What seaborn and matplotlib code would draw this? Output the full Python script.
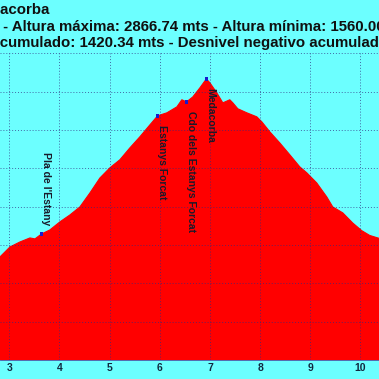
import matplotlib
matplotlib.use("Agg")
import matplotlib.pyplot as plt
import seaborn as sns
import pandas as pd

# perfil (km, metros)
dist_km = [2.815, 3.014, 3.213, 3.412, 3.512, 3.645, 3.811, 4.010, 4.209, 4.408,
           4.608, 4.807, 5.006, 5.205, 5.404, 5.604, 5.803, 5.956, 6.142, 6.341,
           6.440, 6.534, 6.659, 6.799, 6.928, 6.998, 7.137, 7.257, 7.396, 7.456,
           7.556, 7.735, 7.934, 8.034, 8.193, 8.392, 8.592, 8.791, 8.930, 9.129,
           9.329, 9.448, 9.647, 9.846, 10.026, 10.185, 10.370]
alt_m = [1938, 1990, 2016, 2037, 2032, 2058, 2079, 2121, 2157, 2199,
         2272, 2350, 2403, 2445, 2507, 2565, 2627, 2674, 2690, 2721,
         2758, 2747, 2773, 2820, 2866.74, 2847, 2794, 2742, 2758, 2742,
         2711, 2690, 2669, 2643, 2591, 2533, 2471, 2408, 2377, 2324,
         2251, 2199, 2168, 2115, 2075, 2050, 2035]

wp_names = ["Pla de l'Estany", "Estanys Forcat", "Cdo dels Estanys Forcat", "Medacorba"]
wp_km = [3.645, 5.956, 6.534, 6.928]
wp_alt = [2058, 2674, 2747, 2866.74]
wp_above = [True, False, False, False]

km_ticks = [3, 4, 5, 6, 7, 8, 9, 10]
alt_ticks = [1400, 1600, 1800, 2000, 2200, 2400, 2600, 2800, 3000]

linea1 = "Medacorba"
linea2 = "Distancia: 13.20 km - Altura máxima: 2866.74 mts - Altura mínima: 1560.00 mts"
linea3 = "Desnivel positivo acumulado: 1420.34 mts - Desnivel negativo acumulado: 1420.34 mts"

df = pd.DataFrame({"km": dist_km, "alt": alt_m})
wp = pd.DataFrame({"km": wp_km, "alt": wp_alt, "name": wp_names})

sns.set_style("white")
plt.rcParams["font.family"] = ["Liberation Sans", "DejaVu Sans"]

W, H = 379, 379
fig = plt.figure(figsize=(W / 100, H / 100), dpi=100, facecolor="#6cffff")
ax = fig.add_axes([0, (H - 360) / H, 1, (360 - 53.4) / H])
ax.set_facecolor("#6cffff")

ax.fill_between(df["km"], df["alt"], 1400, color="#ff0000", lw=0, zorder=1)
sns.lineplot(data=df, x="km", y="alt", color="#ff0000", lw=0.8, ax=ax, zorder=2)
sns.scatterplot(data=wp, x="km", y="alt", marker="s", s=6, color="#1a1acc",
                edgecolor="none", ax=ax, zorder=4)

for n, x, y, up in zip(wp_names, wp_km, wp_alt, wp_above):
    ax.annotate(n, (x, y), xytext=(-0.5, 6.5 if up else -6.5), textcoords="offset points",
                rotation=270, ha="left", va="bottom" if up else "top",
                fontsize=7.5, fontweight="bold", color="#1a1a2a", zorder=5)

ax.set_xlim(2.815, 10.37)
ax.set_ylim(1400, 3000)
ax.set_xticks(km_ticks)
ax.set_yticks(alt_ticks)
ax.set_yticklabels([])
ax.tick_params(axis="x", length=0, pad=2, labelsize=7.5, labelcolor="#102a40")
for lb in ax.get_xticklabels():
    lb.set_fontweight("bold")
ax.tick_params(axis="y", length=0)
ax.set_xlabel("")
ax.set_ylabel("")
ax.grid(True, color="#302a80", alpha=0.7, lw=0.7, ls=(0, (1, 2)), zorder=3)
ax.set_axisbelow(False)
for s in ["top", "left", "right"]:
    ax.spines[s].set_visible(False)
ax.spines["bottom"].set_color("#5050a0")
ax.spines["bottom"].set_linewidth(0.6)

# titulo (recortado en la imagen original)
r = fig.canvas.get_renderer()
tkw = dict(fontsize=10.8, fontweight="bold", color="#101010")


def place(text, prefix, x_px, y_px):
    t = fig.text(0, 0, prefix, **tkw)
    w = t.get_window_extent(r).width
    t.remove()
    fig.text((x_px - w) / W, 1 - y_px / H, text, ha="left", va="baseline", **tkw)


place(linea1, "Med", 0, 14)
place(linea2, "Distancia: 13.20 km", -1, 31)
place(linea3, "Desnivel positivo a", 0, 47)

fig.savefig("out.png", dpi=100, facecolor=fig.get_facecolor())
